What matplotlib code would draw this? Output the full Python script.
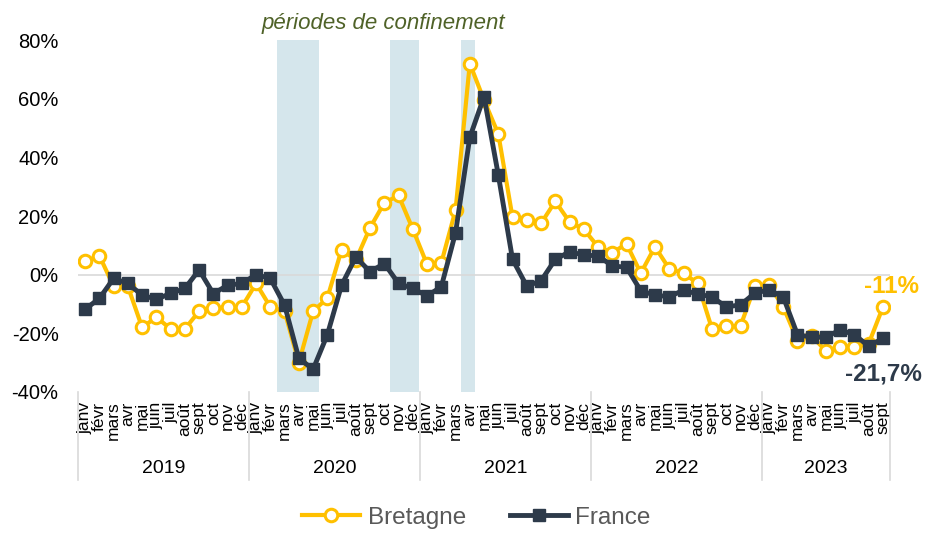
import matplotlib.pyplot as plt
import matplotlib.transforms as mtransforms

plt.rcParams['font.family'] = ['Liberation Sans', 'DejaVu Sans']

# data
years = ['2019', '2020', '2021', '2022', '2023']
month_names = ['janv', 'févr', 'mars', 'avr', 'mai', 'juin', 'juil', 'août', 'sept', 'oct', 'nov', 'déc']
months_per_year = [12, 12, 12, 12, 9]

bretagne = [
    4.5, 6.5, -4, -4, -18, -14.5, -18.5, -18.5, -12.5, -11.5, -11, -11,
    -3, -11, -12.5, -30, -12.5, -8, 8.5, 5, 16, 24.5, 27, 15.5,
    3.5, 4, 22, 72, 59.5, 48, 19.5, 18.5, 17.5, 25, 18, 15.5,
    9.5, 7.5, 10.5, 0.5, 9.5, 2, 0.5, -3, -18.5, -17.5, -17.5, -4,
    -3.5, -11, -22.5, -21, -26, -24.5, -24.5, -23.5, -11,
]
france = [
    -11.8, -8.1, -1.3, -3, -7, -8.4, -6.4, -4.7, 1.6, -6.5, -3.6, -3,
    0, -1.3, -10.4, -28.5, -32.3, -20.5, -3.6, 6, 1, 3.8, -3, -4.7,
    -7.3, -4.1, 14.3, 46.8, 60.7, 34, 5.2, -3.9, -2.1, 5.2, 7.8, 6.7,
    6.4, 3, 2.5, -5.5, -7, -7.5, -5.3, -6.6, -7.6, -11, -10.3, -6.3,
    -5.2, -7.6, -20.5, -21.3, -21.3, -18.8, -20.5, -24.4, -21.7,
]
# lockdown periods (month index ranges)
confinements = [(13.5, 16.4), (21.4, 23.4), (26.4, 27.35)]

month_labels = []
for n in months_per_year:
    month_labels += month_names[:n]
x = list(range(len(month_labels)))

col_bre = '#FFC000'
col_fra = '#2D3A4A'
grey = '#D9D9D9'

fig = plt.figure(figsize=(9.34, 5.34), dpi=100)
ax = fig.add_axes([0.0835, 0.266, 0.8695, 0.659])

for a, b in confinements:
    ax.axvspan(a, b, color='#D5E6EC', lw=0, zorder=0)

ax.axhline(0, color=grey, lw=1.2, zorder=1)

ax.plot(x, bretagne, color=col_bre, lw=3, marker='o', ms=9, mfc='white',
        mec=col_bre, mew=2.2, label='Bretagne', zorder=3)
ax.plot(x, france, color=col_fra, lw=3.5, marker='s', ms=8.5, mfc=col_fra,
        mec=col_fra, label='France', zorder=4)

ax.set_xlim(-0.5, len(x) - 0.5)
ax.set_ylim(-40, 80)
ax.set_yticks(range(-40, 81, 20))
ax.set_yticklabels([f'{v}%' for v in range(-40, 81, 20)], fontsize=14.5)
ax.set_xticks(x)
ax.set_xticklabels(month_labels, rotation=90, fontsize=12.5)
ax.tick_params(axis='y', length=0, pad=14)
ax.tick_params(axis='x', length=0, pad=7)
for s in ax.spines.values():
    s.set_visible(False)

# year separators and labels
trans = mtransforms.blended_transform_factory(ax.transData, ax.transAxes)
start = 0
bounds = [-0.5]
for n in months_per_year:
    start += n
    bounds.append(start - 0.5)
for b in bounds:
    ax.plot([b, b], [0, -0.25], color=grey, lw=1.2, transform=trans, clip_on=False)
for i, yr in enumerate(years):
    ax.text((bounds[i] + bounds[i + 1]) / 2, -0.218, yr, transform=trans,
            ha='center', va='center', fontsize=14)

ax.text(20.9, 82, 'périodes de confinement', ha='center', va='bottom',
        fontsize=16, style='italic', color='#4F6228')

ax.annotate('-11%', (x[-1], bretagne[-1]), xytext=(6, 15), textcoords='offset points',
            ha='center', va='center', fontsize=17.5, fontweight='bold', color=col_bre)
ax.annotate('-21,7%', (x[-1], france[-1]), xytext=(0, -26), textcoords='offset points',
            ha='center', va='center', fontsize=17.5, fontweight='bold', color=col_fra)

fig.legend(loc='center', bbox_to_anchor=(0.51, 0.03), ncol=2, frameon=False,
           fontsize=17.5, handlelength=2.4, handletextpad=0.3, columnspacing=1.8,
           labelcolor='#595959')

fig.savefig('out.png', dpi=100)
